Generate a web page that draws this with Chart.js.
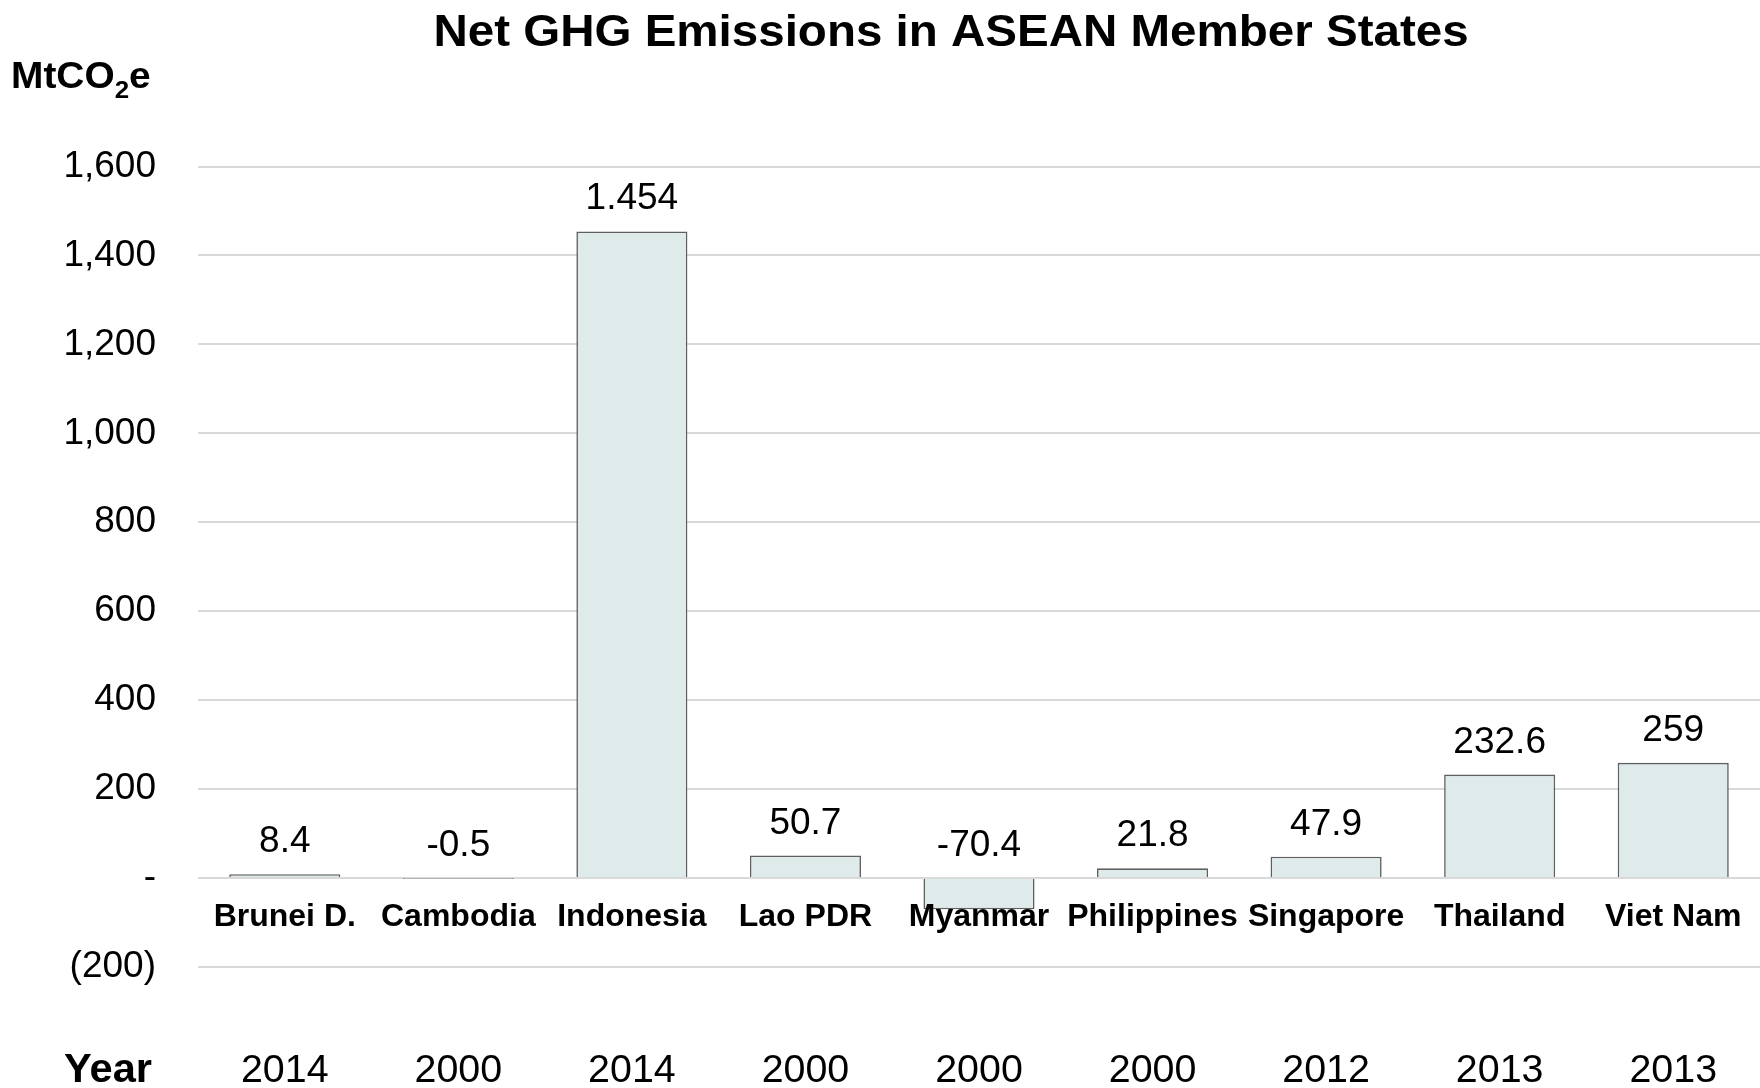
<!DOCTYPE html>
<html>
<head>
<meta charset="utf-8">
<script src="https://cdn.jsdelivr.net/npm/chart.js@4.4.1/dist/chart.umd.min.js"></script>
<style>
  html, body { margin: 0; padding: 0; background: #ffffff; }
  #wrap { width: 1760px; height: 1088px; position: relative; }
</style>
</head>
<body>
<div id="wrap"><canvas id="c" width="1760" height="1088"></canvas></div>
<script>
// ---- data ----
const countries = ["Brunei D.", "Cambodia", "Indonesia", "Lao PDR", "Myanmar", "Philippines", "Singapore", "Thailand", "Viet Nam"];
const years = ["2014", "2000", "2014", "2000", "2000", "2000", "2012", "2013", "2013"];
const emissions = [8.4, -0.5, 1454, 50.7, -70.4, 21.8, 47.9, 232.6, 259];
const valueLabels = ["8.4", "-0.5", "1.454", "50.7", "-70.4", "21.8", "47.9", "232.6", "259"];
const yMin = -200, yMax = 1600, yStep = 200;

const FONT = '"Liberation Sans", Arial, Helvetica, sans-serif';

function tickLabel(v) {
  if (v === 0) return '-';
  if (v < 0) return '(' + Math.abs(v).toLocaleString('en-US') + ')';
  return v.toLocaleString('en-US');
}

// draw text with optional horizontal stretch
function drawText(ctx, text, x, y, font, align, sx) {
  sx = sx || 1;
  ctx.save();
  ctx.font = font;
  ctx.textBaseline = 'alphabetic';
  ctx.textAlign = 'left';
  const w = ctx.measureText(text).width * sx;
  let left = x;
  if (align === 'center') left = x - w / 2;
  else if (align === 'right') left = x - w;
  ctx.translate(left, y);
  ctx.scale(sx, 1);
  ctx.fillText(text, 0, 0);
  ctx.restore();
  return w;
}

const textPlugin = {
  id: 'textPlugin',
  afterDatasetsDraw(chart) {
    const ctx = chart.ctx;
    const x = chart.scales.x, y = chart.scales.y;
    ctx.save();
    ctx.fillStyle = '#000000';
    // value labels
    emissions.forEach((v, i) => {
      const px = x.getPixelForValue(i);
      const py = y.getPixelForValue(Math.max(v, 0)) - 22;
      drawText(ctx, valueLabels[i], px, py, '37px ' + FONT, 'center', 1);
    });
    // category labels
    countries.forEach((c, i) => {
      drawText(ctx, c, x.getPixelForValue(i), 926, 'bold 32px ' + FONT, 'center', 1);
    });
    // year labels
    years.forEach((yr, i) => {
      drawText(ctx, yr, x.getPixelForValue(i), 1082, '39px ' + FONT, 'center', 1.01);
    });
    drawText(ctx, 'Year', 152, 1082, 'bold 40px ' + FONT, 'right', 1.04);
    // title
    drawText(ctx, 'Net GHG Emissions in ASEAN Member States', 951, 46, 'bold 44px ' + FONT, 'center', 1.08);
    // unit
    let ux = 11;
    ux += drawText(ctx, 'MtCO', ux, 88, 'bold 36px ' + FONT, 'left', 1.08);
    ux += drawText(ctx, '2', ux, 98, 'bold 24px ' + FONT, 'left', 1.08);
    drawText(ctx, 'e', ux, 88, 'bold 36px ' + FONT, 'left', 1.08);
    ctx.restore();
  }
};

new Chart(document.getElementById('c'), {
  type: 'bar',
  data: {
    labels: countries,
    datasets: [{
      data: emissions,
      backgroundColor: '#dfeaea',
      borderColor: '#5f5f5f',
      borderWidth: 1.6,
      barPercentage: 0.64,
      categoryPercentage: 1.0
    }]
  },
  options: {
    responsive: false,
    animation: false,
    devicePixelRatio: 1,
    layout: { padding: { top: 166.5, bottom: 121, left: 0, right: 0 } },
    plugins: {
      legend: { display: false },
      title: { display: false },
      tooltip: { enabled: false }
    },
    scales: {
      x: {
        display: false
      },
      y: {
        min: yMin,
        max: yMax,
        border: { display: false },
        grid: { color: '#d9d9d9', lineWidth: 2, drawTicks: false },
        ticks: {
          stepSize: yStep,
          padding: 42,
          color: '#000000',
          font: { family: FONT, size: 37 },
          callback: (v) => tickLabel(v)
        },
        afterFit(scale) { scale.width = 198; }
      }
    }
  },
  plugins: [textPlugin]
});
</script>
</body>
</html>
